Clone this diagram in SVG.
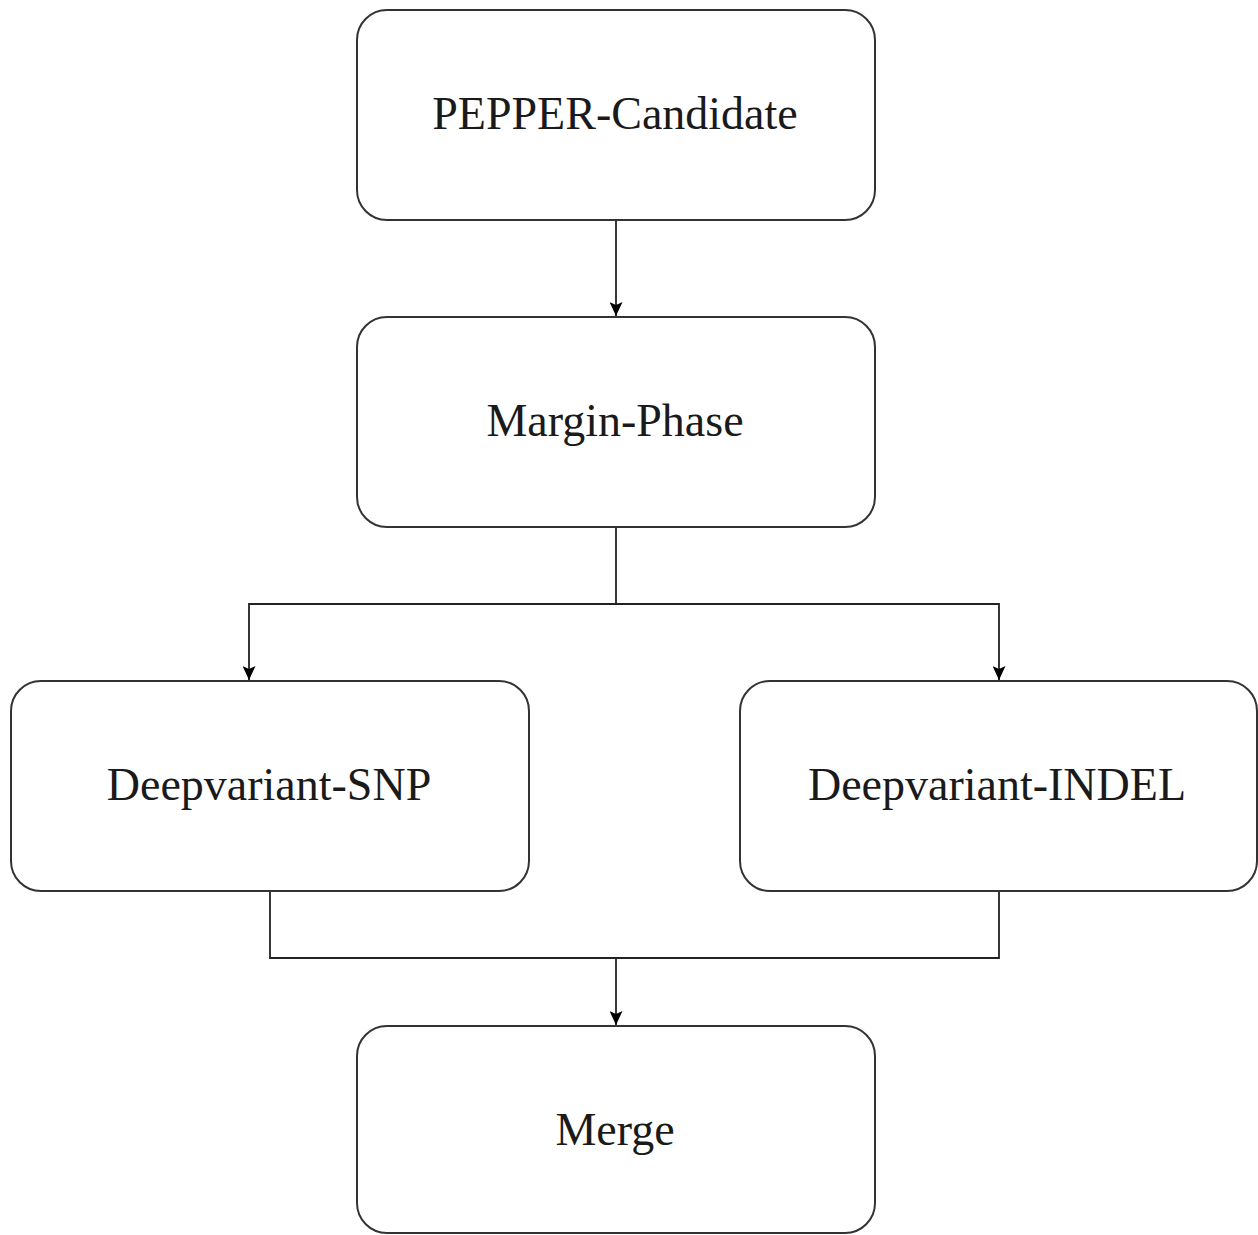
<svg xmlns="http://www.w3.org/2000/svg" width="1258" height="1235" viewBox="0 0 1258 1235">
<style>
.box{fill:#fff;stroke:#333;stroke-width:2}
.lbl{font-family:"Liberation Serif","Times New Roman",serif;font-size:46px;fill:#1a1a1a;text-anchor:middle}
.con{fill:none;stroke:#222;stroke-width:1.8}
</style>
<defs>
<marker id="arr" viewBox="0 0 14 13" refX="14" refY="6.5" markerWidth="14" markerHeight="13" markerUnits="userSpaceOnUse" orient="auto">
<path d="M0,0 L14,6.5 L0,13 L3,6.5 Z" fill="#000"/>
</marker>
</defs>
<rect width="1258" height="1235" fill="#fff"/>
<g id="connectors">
<path class="con" d="M616,221 V316" marker-end="url(#arr)"/>
<path class="con" d="M616,528 V604 H249 V680" marker-end="url(#arr)"/>
<path class="con" d="M616,604 H999 V680" marker-end="url(#arr)"/>
<path class="con" d="M270,892 V958 H999 V892"/>
<path class="con" d="M616,958 V1025" marker-end="url(#arr)"/>
</g>
<g id="pepper">
<rect class="box" x="357" y="10" width="518" height="210" rx="30"/>
<text class="lbl" x="615" y="129">PEPPER-Candidate</text>
</g>
<g id="margin">
<rect class="box" x="357" y="317" width="518" height="210" rx="30"/>
<text class="lbl" x="615" y="436">Margin-Phase</text>
</g>
<g id="snp">
<rect class="box" x="11" y="681" width="518" height="210" rx="30"/>
<text class="lbl" x="269" y="800">Deepvariant-SNP</text>
</g>
<g id="indel">
<rect class="box" x="740" y="681" width="517" height="210" rx="30"/>
<text class="lbl" x="997" y="800">Deepvariant-INDEL</text>
</g>
<g id="merge">
<rect class="box" x="357" y="1026" width="518" height="207" rx="30"/>
<text class="lbl" x="615" y="1145">Merge</text>
</g>
</svg>
